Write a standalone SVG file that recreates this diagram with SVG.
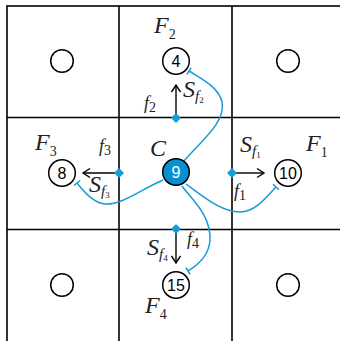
<svg xmlns="http://www.w3.org/2000/svg" width="340" height="341" viewBox="0 0 340 341">
<style>
.grid{stroke:#000;stroke-width:1.6;fill:none}
.node{fill:#fff;stroke:#000;stroke-width:1.5}
.cnode{fill:#0891d1;stroke:#000;stroke-width:1.5}
.num{font-family:"Liberation Sans",Arial,sans-serif;font-size:16px;text-anchor:middle}
.lab{font-family:"Liberation Serif","Times New Roman",serif;font-style:italic;fill:#222}
.big{font-size:24px}
.sm{font-size:18px}
.sub{font-size:14px;font-style:normal}
.subf{font-size:15px;font-style:italic}
.sub2{font-size:9px;font-style:normal}
.flow{stroke:#1a9ad7;stroke-width:1.5;fill:none;marker-end:url(#bar)}
.arr{stroke:#000;stroke-width:1.4;fill:none;marker-end:url(#head)}
.dia{fill:#1a9ad7}
</style>
<defs>
<marker id="bar" markerWidth="10" markerHeight="10" refX="0" refY="5" orient="auto" markerUnits="userSpaceOnUse" viewBox="-5 0 10 10">
<path d="M0,1 L0,9" stroke="#1a9ad7" stroke-width="1.5"/>
</marker>
<marker id="head" markerWidth="12" markerHeight="12" refX="0" refY="0" orient="auto" markerUnits="userSpaceOnUse" viewBox="-10 -6 12 12">
<path d="M-7,-4.5 L0,0 L-7,4.5" stroke="#000" stroke-width="1.4" fill="none"/>
</marker>
</defs>
<g id="grid" class="grid">
<rect x="7" y="6" width="345" height="345"/>
<line x1="119" y1="6" x2="119" y2="341"/>
<line x1="232" y1="6" x2="232" y2="341"/>
<line x1="7" y1="117.5" x2="340" y2="117.5"/>
<line x1="7" y1="229.5" x2="340" y2="229.5"/>
</g>
<g id="connectors">
<path class="flow" d="M184,161 C202,140 226,122 222,102 C219,87 200,78 189,71"/>
<path class="flow" d="M163,180 C140,190 122,205 105,204 C94,203 85,193 77,183"/>
<path class="flow" d="M186,184 C205,198 222,212 240,212 C255,212 266,198 276,187"/>
<path class="flow" d="M182,186 C192,200 211,215 210,240 C209,256 198,265 188,271"/>
<path class="arr" d="M176,118 L176,85"/>
<path class="arr" d="M119,173 L83,173"/>
<path class="arr" d="M232,173 L264,173"/>
<path class="arr" d="M176,229 L176,263"/>
</g>
<g id="diamonds">
<path class="dia" d="M176,113 L181,118 L176,123 L171,118 Z"/>
<path class="dia" d="M119,168 L124,173 L119,178 L114,173 Z"/>
<path class="dia" d="M232,168 L237,173 L232,178 L227,173 Z"/>
<path class="dia" d="M176,224 L181,229 L176,234 L171,229 Z"/>
</g>
<g id="n1"><circle class="node" cx="62" cy="61" r="11.3"/></g>
<g id="n3"><circle class="node" cx="288" cy="61" r="11.3"/></g>
<g id="n13"><circle class="node" cx="62" cy="285" r="11.3"/></g>
<g id="n17"><circle class="node" cx="288" cy="285" r="11.3"/></g>
<g id="n4"><circle class="node" cx="176" cy="61" r="13.3"/><text class="num" x="176" y="67">4</text></g>
<g id="n8"><circle class="node" cx="62" cy="173" r="13.3"/><text class="num" x="62" y="179">8</text></g>
<g id="n10"><circle class="node" cx="288" cy="173" r="13.3"/><text class="num" x="288" y="179">10</text></g>
<g id="n15"><circle class="node" cx="176" cy="285" r="13.3"/><text class="num" x="176" y="291">15</text></g>
<g id="n9"><circle class="cnode" cx="176" cy="172" r="13.3"/><text class="num" x="176" y="178" fill="#fff">9</text></g>
<g id="labels">
<text class="lab big" x="154" y="33">F<tspan class="sub" dy="6">2</tspan></text>
<text class="lab big" x="35" y="150">F<tspan class="sub" dy="6">3</tspan></text>
<text class="lab big" x="306" y="151">F<tspan class="sub" dy="6">1</tspan></text>
<text class="lab big" x="145" y="313">F<tspan class="sub" dy="6">4</tspan></text>
<text class="lab big" x="150" y="156">C</text>
<text class="lab big" x="183" y="97">S<tspan class="subf" dy="4">f</tspan><tspan class="sub2" dy="2">2</tspan></text>
<text class="lab big" x="89" y="192">S<tspan class="subf" dy="4">f</tspan><tspan class="sub2" dy="2">3</tspan></text>
<text class="lab big" x="240" y="152">S<tspan class="subf" dy="4">f</tspan><tspan class="sub2" dy="2">1</tspan></text>
<text class="lab big" x="147" y="255">S<tspan class="subf" dy="4">f</tspan><tspan class="sub2" dy="2">4</tspan></text>
<text class="lab sm" x="144" y="109">f<tspan class="sub" dy="3">2</tspan></text>
<text class="lab sm" x="99" y="152">f<tspan class="sub" dy="3">3</tspan></text>
<text class="lab sm" x="234" y="197">f<tspan class="sub" dy="3">1</tspan></text>
<text class="lab sm" x="187" y="245">f<tspan class="sub" dy="3">4</tspan></text>
</g>
</svg>
